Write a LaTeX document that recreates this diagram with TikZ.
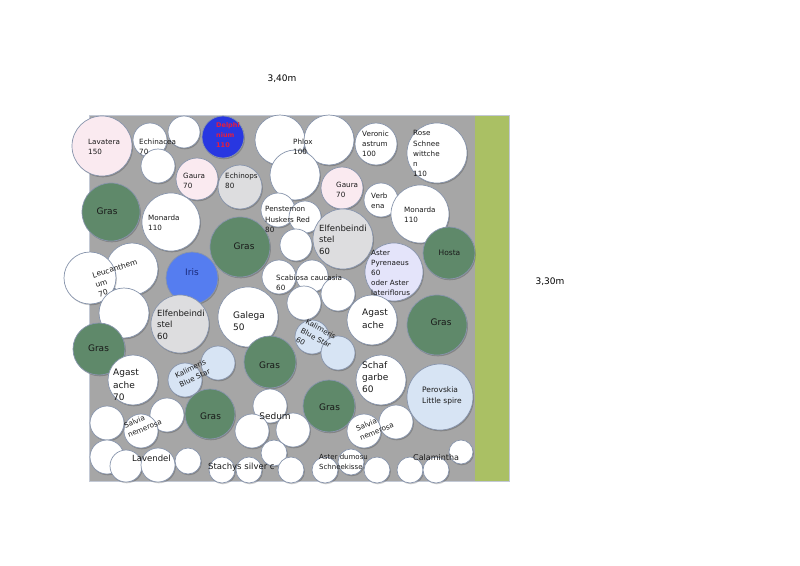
\documentclass[tikz,border=0pt]{standalone}
\usepackage{fontspec}
\setmainfont{DejaVu Sans}
\definecolor{bggray}{RGB}{166,166,166}
\definecolor{strip}{RGB}{170,192,100}
\definecolor{gras}{RGB}{95,137,106}
\definecolor{pinkc}{RGB}{250,234,240}
\definecolor{lgray}{RGB}{221,221,223}
\definecolor{delph}{RGB}{40,55,225}
\definecolor{irisc}{RGB}{85,125,240}
\definecolor{lblue}{RGB}{215,228,244}
\definecolor{lavc}{RGB}{228,228,250}
\definecolor{ringc}{RGB}{135,148,172}
\definecolor{txt}{RGB}{25,25,25}
\newcommand\plantc[4]{%
  \fill[black,opacity=0.2] ([xshift=0.9pt,yshift=-1.3pt]#1,#2) circle[radius=#3pt];
  \filldraw[fill=#4,draw=ringc,line width=0.7pt] (#1,#2) circle[radius=#3pt];}
\tikzset{
  s7/.style={font=\fontsize{7.2}{10.2}\selectfont, align=left, anchor=north west, inner sep=0pt, text=txt},
  s9/.style={font=\fontsize{8.8}{12}\selectfont, align=left, anchor=north west, inner sep=0pt, text=txt},
  glab/.style={font=\fontsize{9}{11}\selectfont, inner sep=0pt, text=txt},
  dimlab/.style={font=\fontsize{9}{11}\selectfont, inner sep=0pt, text=black},
}
\begin{document}
\begin{tikzpicture}[x=1pt,y=-1pt]
\useasboundingbox (0,0) rectangle (800,565);
\fill[white] (0,0) rectangle (800,565);
% bed
\fill[bggray] (89,115) rectangle (475,481);
\fill[strip] (475,115) rectangle (509,481);
\draw[ringc!50,line width=0.5pt] (89,115) rectangle (509,481);
% plants
\plantc{102}{146}{30}{pinkc}
\plantc{150}{140}{17}{white}
\plantc{184}{132}{16}{white}
\plantc{223}{137}{21}{delph}
\plantc{158}{166}{17}{white}
\plantc{197}{179}{21}{pinkc}
\plantc{240}{187}{22}{lgray}
\plantc{111}{212}{29}{gras}
\plantc{171}{222}{29}{white}
\plantc{240}{247}{30}{gras}
\plantc{280}{140}{25}{white}
\plantc{329}{140}{25}{white}
\plantc{295}{175}{25}{white}
\plantc{376}{144}{21}{white}
\plantc{437}{153}{30}{white}
\plantc{342}{188}{21}{pinkc}
\plantc{381}{200}{17}{white}
\plantc{420}{214}{29}{white}
\plantc{278}{210}{17}{white}
\plantc{305}{217}{16}{white}
\plantc{296}{245}{16}{white}
\plantc{343}{239}{30}{lgray}
\plantc{449}{253}{26}{gras}
\plantc{132}{269}{26}{white}
\plantc{90}{278}{26}{white}
\plantc{192}{278}{26}{irisc}
\plantc{124}{313}{25}{white}
\plantc{180}{324}{29}{lgray}
\plantc{248}{317}{30}{white}
\plantc{279}{277}{17}{white}
\plantc{312}{276}{16}{white}
\plantc{338}{294}{17}{white}
\plantc{304}{303}{17}{white}
\plantc{394}{272}{29}{lavc}
\plantc{372}{320}{25}{white}
\plantc{437}{325}{30}{gras}
\plantc{312}{337}{17}{lblue}
\plantc{338}{353}{17}{lblue}
\plantc{99}{349}{26}{gras}
\plantc{270}{362}{26}{gras}
\plantc{133}{380}{25}{white}
\plantc{218}{363}{17}{lblue}
\plantc{185}{380}{17}{lblue}
\plantc{381}{380}{25}{white}
\plantc{440}{397}{33}{lblue}
\plantc{210}{414}{25}{gras}
\plantc{329}{406}{26}{gras}
\plantc{107}{423}{17}{white}
\plantc{167}{415}{17}{white}
\plantc{141}{431}{17}{white}
\plantc{107}{457}{17}{white}
\plantc{126}{466}{16}{white}
\plantc{158}{465}{17}{white}
\plantc{188}{461}{13}{white}
\plantc{222}{470}{13}{white}
\plantc{249}{470}{13}{white}
\plantc{270}{406}{17}{white}
\plantc{252}{431}{17}{white}
\plantc{293}{430}{17}{white}
\plantc{274}{453}{13}{white}
\plantc{291}{470}{13}{white}
\plantc{396}{422}{17}{white}
\plantc{364}{431}{17}{white}
\plantc{325}{470}{13}{white}
\plantc{351}{462}{13}{white}
\plantc{377}{470}{13}{white}
\plantc{410}{470}{13}{white}
\plantc{436}{470}{13}{white}
\plantc{461}{452}{12}{white}
% labels
\node[dimlab] (w) at (282,79) {3,40m};
\node[dimlab] (h) at (550,282) {3,30m};
\node[s7] (lavatera) at (88,139) {Lavatera\\150};
\node[s7] (echinacea) at (139,139) {Echinacea\\70};
\node[s7, font=\fontsize{6.5}{10}\selectfont\bfseries, text={rgb,255:red,230;green,30;blue,60}] (delphi) at (216,122) {Delphi\\nium\\110};
\node[s7] (gaura1) at (183,173) {Gaura\\70};
\node[s7] (echinops) at (225,173) {Echinops\\80};
\node[glab] (gras1) at (107,211) {Gras};
\node[s7] (monarda1) at (148,215) {Monarda\\110};
\node[glab] (gras2) at (244,246) {Gras};
\node[s7] (phlox) at (293,139) {Phlox\\100};
\node[s7] (veron) at (362,130.5) {Veronic\\astrum\\100};
\node[s7] (rose) at (413,130.5) {Rose\\Schnee\\wittche\\n\\110};
\node[s7] (gaura2) at (336,181.5) {Gaura\\70};
\node[s7] (verbena) at (371,193) {Verb\\ena};
\node[s7] (monarda2) at (404,206.5) {Monarda\\110};
\node[s7] (penst) at (265,206.5) {Penstemon\\Huskers Red\\80};
\node[s9, font=\fontsize{8.5}{11.5}\selectfont] (elf1) at (319,224.5) {Elfenbeindi\\stel\\60};
\node[glab, font=\fontsize{7.5}{9}\selectfont] (hosta) at (449.5,253) {Hosta};
\node[s7, font=\fontsize{7.5}{10}\selectfont, rotate=17] (leuc) at (91.5,272.5) {Leucanthem\\um\\70};
\node[glab, text={rgb,255:red,25;green,40;blue,120}] (iris) at (192,272) {Iris};
\node[s9, font=\fontsize{8.5}{11.5}\selectfont] (elf2) at (157,309.5) {Elfenbeindi\\stel\\60};
\node[s9, font=\fontsize{9}{12.5}\selectfont] (galega) at (233,311) {Galega\\50};
\node[s7] (scab) at (276,275) {Scabiosa caucasia\\60};
\node[s7, font=\fontsize{7.2}{10}\selectfont] (asterp) at (371,250.5) {Aster\\Pyrenaeus\\60\\oder Aster\\lateriflorus};
\node[s9, font=\fontsize{9}{13}\selectfont] (agast1) at (362,309) {Agast\\ache};
\node[glab] (gras3) at (441,322) {Gras};
\node[s7, rotate=-28] (kal1) at (307.5,318.5) {Kalimeris\\Blue Star\\60};
\node[glab] (gras4) at (98.5,348) {Gras};
\node[s9, font=\fontsize{9}{12.5}\selectfont] (agast2) at (113,369) {Agast\\ache\\70};
\node[s7, rotate=25] (kal2) at (174,373) {Kalimeris\\Blue Star};
\node[glab] (gras5) at (269.5,365) {Gras};
\node[s9, font=\fontsize{9}{12}\selectfont] (schaf) at (362,361) {Schaf\\garbe\\60};
\node[s7, font=\fontsize{7.5}{11}\selectfont] (perov) at (422,386.5) {Perovskia\\Little spire};
\node[glab] (gras6) at (210.5,416) {Gras};
\node[glab] (gras7) at (329.5,407.5) {Gras};
\node[glab] (sedum) at (275,416) {Sedum};
\node[s7, rotate=22] (salv1) at (123,423) {Salvia\\nemerosa};
\node[s7, rotate=22] (salv2) at (355,426) {Salvia\\nemerosa};
\node[glab, font=\fontsize{8.5}{10}\selectfont, anchor=west] (lavendel) at (132,458) {Lavendel};
\node[glab, font=\fontsize{8.5}{10}\selectfont, anchor=west] (stachys) at (208,467) {Stachys silver c};
\node[s7, font=\fontsize{7}{10}\selectfont] (asterd) at (319,454) {Aster dumosu\\Schneekisse};
\node[glab, font=\fontsize{8}{10}\selectfont, anchor=west] (calam) at (413,458) {Calamintha};
\end{tikzpicture}
\end{document}
